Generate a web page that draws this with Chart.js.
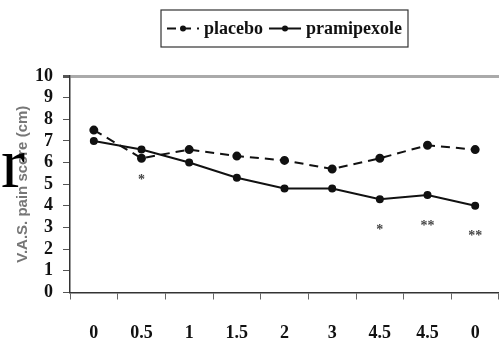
<!DOCTYPE html>
<html>
<head>
<meta charset="utf-8">
<script src="https://cdn.jsdelivr.net/npm/chart.js@4"></script>
<style>
  html, body { margin: 0; padding: 0; background: #fff; }
  #wrap { position: relative; width: 499px; height: 343px; overflow: hidden; }
  #stray { position: absolute; left: 1px; top: 127px; font: 72px "Liberation Serif", serif; color: #000; line-height: 1; }
</style>
</head>
<body>
<div id="wrap">
  <canvas id="grafico" width="499" height="343"></canvas>
  <span id="stray">r</span>
</div>
<script>
// semanas de tratamiento (etiquetas del eje x)
const semanas = ["0", "0.5", "1", "1.5", "2", "3", "4.5", "4.5", "0"];
const placebo = [7.5, 6.2, 6.6, 6.3, 6.1, 5.7, 6.2, 6.8, 6.6];
const pramipexole = [7.0, 6.6, 6.0, 5.3, 4.8, 4.8, 4.3, 4.5, 4.0];
// marcas de significancia bajo cada punto de pramipexol
const significancia = ["", "*", "", "", "", "", "*", "**", "**"];
const ticksY = [0, 1, 2, 3, 4, 5, 6, 7, 8, 9, 10];

const fuenteSerif = "'Liberation Serif', 'Times New Roman', serif";

// leyenda con recuadro, dibujada a mano
const leyendaCaja = {
  id: "leyendaCaja",
  afterDraw(chart) {
    const ctx = chart.ctx;
    const area = chart.chartArea;
    const cx = (area.left + Math.min(area.right, chart.width)) / 2;
    ctx.save();
    ctx.font = "bold 18px " + fuenteSerif;
    const muestra = 32, gap = 5, sep = 6, pad = 6;
    const items = chart.data.datasets.map(ds => ({ ds, w: ctx.measureText(ds.label).width }));
    let total = pad * 2;
    items.forEach((it, i) => { total += muestra + gap + it.w + (i ? sep : 0); });
    const x0 = cx - total / 2, y0 = 10, h = 37;
    ctx.strokeStyle = "#333";
    ctx.lineWidth = 1.2;
    ctx.strokeRect(x0, y0, total, h);
    let x = x0 + pad;
    const ym = y0 + h / 2;
    items.forEach((it, i) => {
      if (i) x += sep;
      ctx.strokeStyle = "#111";
      ctx.lineWidth = 2;
      ctx.setLineDash(it.ds.borderDash || []);
      ctx.beginPath();
      ctx.moveTo(x, ym);
      ctx.lineTo(x + muestra, ym);
      ctx.stroke();
      ctx.setLineDash([]);
      ctx.fillStyle = "#111";
      ctx.beginPath();
      ctx.arc(x + muestra / 2, ym, 3, 0, Math.PI * 2);
      ctx.fill();
      x += muestra + gap;
      ctx.textBaseline = "middle";
      ctx.fillText(it.ds.label, x, ym + 1);
      x += it.w;
    });
    ctx.restore();
  }
};

// asteriscos de significancia
const asteriscos = {
  id: "asteriscos",
  afterDatasetsDraw(chart) {
    const ctx = chart.ctx;
    const xs = chart.scales.x, ys = chart.scales.y;
    ctx.save();
    ctx.font = "bold 14px " + fuenteSerif;
    ctx.fillStyle = "#444";
    ctx.textAlign = "center";
    ctx.textBaseline = "middle";
    significancia.forEach((s, i) => {
      if (!s) return;
      ctx.fillText(s, xs.getPixelForValue(i), ys.getPixelForValue(pramipexole[i]) + 31);
    });
    ctx.restore();
  }
};

new Chart(document.getElementById("grafico").getContext("2d"), {
  type: "line",
  data: {
    labels: semanas,
    datasets: [
      {
        label: "placebo",
        data: placebo,
        borderColor: "#111",
        backgroundColor: "#111",
        borderWidth: 2,
        borderDash: [9, 6],
        pointRadius: 3.5,
        tension: 0
      },
      {
        label: "pramipexole",
        data: pramipexole,
        borderColor: "#111",
        backgroundColor: "#111",
        borderWidth: 2,
        pointRadius: 3,
        tension: 0
      }
    ]
  },
  options: {
    responsive: false,
    animation: false,
    layout: { autoPadding: false, padding: { top: 76, left: 14, right: -2, bottom: -5 } },
    plugins: { legend: { display: false }, tooltip: { enabled: false } },
    scales: {
      x: {
        offset: true,
        border: { color: "#333", width: 1.5 },
        // marca corta de 6px; el resto de la longitud solo separa las etiquetas
        grid: { offset: true, drawOnChartArea: false, tickLength: 26, tickColor: "#666", tickBorderDash: [6, 200] },
        ticks: { color: "#111", padding: 4, maxRotation: 0, autoSkip: false, font: { family: fuenteSerif, size: 18, weight: "bold" } }
      },
      y: {
        min: 0,
        max: 10,
        afterBuildTicks(scale) { scale.ticks = ticksY.map(v => ({ value: v })); },
        border: { color: "#333", width: 1.5 },
        grid: {
          color: ctx => ctx.tick && ctx.tick.value === 10 ? "#aaa" : "rgba(0,0,0,0)",
          lineWidth: ctx => ctx.tick && ctx.tick.value === 10 ? 3 : 1,
          tickLength: 7,
          tickColor: "#555"
        },
        ticks: { color: "#111", padding: 10, autoSkip: false, font: { family: fuenteSerif, size: 18, weight: "bold" } },
        title: {
          display: true,
          text: "V.A.S. pain score (cm)",
          color: "#777",
          padding: { top: 0, bottom: -7 },
          font: { family: "'Liberation Sans', Arial, sans-serif", size: 15, weight: "bold" }
        }
      }
    }
  },
  plugins: [leyendaCaja, asteriscos]
});
</script>
</body>
</html>
